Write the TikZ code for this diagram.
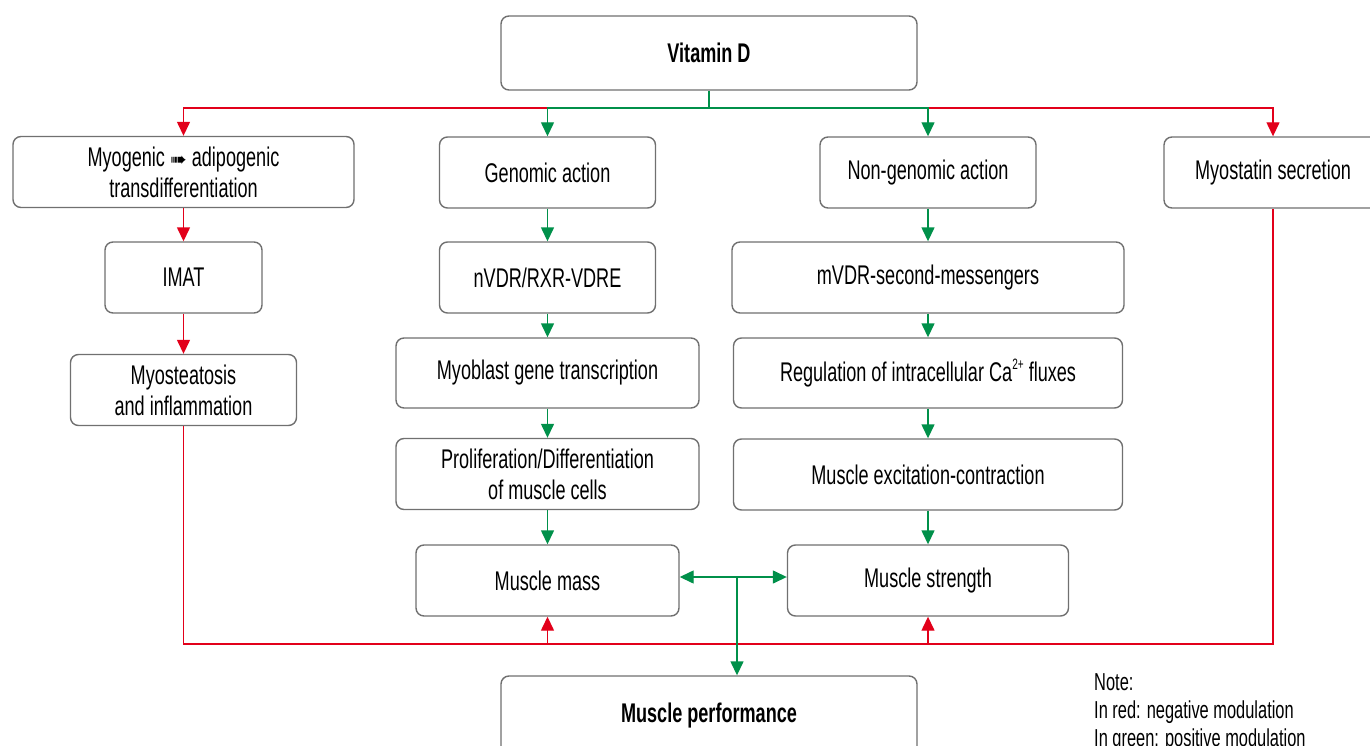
\documentclass[tikz,border=0pt]{standalone}
\usepackage{fontspec}
\setmainfont{Liberation Sans}[FakeStretch=0.67]
\newfontfamily\dejavu{DejaVu Sans}
\usetikzlibrary{arrows.meta}
\definecolor{vred}{HTML}{E2001A}
\definecolor{vgreen}{HTML}{00904A}
\definecolor{vgray}{HTML}{707070}
\tikzset{
  box/.style={draw=vgray, line width=1.4pt, rounded corners=8pt, fill=white,
    align=center, inner sep=0pt, font=\fontsize{27}{31}\selectfont},
  boldbox/.style={box, font=\fontsize{27}{31}\selectfont\bfseries},
  rline/.style={draw=vred, line width=1.4pt},
  gline/.style={draw=vgreen, line width=1.4pt},
  rarr/.style={rline, -{Triangle[length=14pt,width=13pt]}},
  garr/.style={gline, -{Triangle[length=14pt,width=13pt]}},
  garrtwo/.style={gline, {Triangle[length=14pt,width=13pt]}-{Triangle[length=14pt,width=13pt]}},
  notetext/.style={align=left, inner sep=0pt, font=\fontsize{24.5}{28}\selectfont}
}
\begin{document}
\begin{tikzpicture}[x=1pt,y=-1pt]
\path[use as bounding box] (0,0) rectangle (1370,746);
\clip (0,0) rectangle (1370,746);
% boxes
\node[boldbox, minimum width=416pt, minimum height=74pt] (vit) at (709,53) {Vitamin D};
\node[box, minimum width=341pt, minimum height=71pt] (myo) at (183.5,172) {Myogenic {\dejavu\fontsize{20}{20}\selectfont ➠} adipogenic\\transdifferentiation};
\node[box, minimum width=216pt, minimum height=71pt] (gen) at (547.5,172.5) {Genomic action};
\node[box, minimum width=216pt, minimum height=71pt] (ngen) at (928,172.5) {Non-genomic action};
\node[box, minimum width=218pt, minimum height=71pt] (mst) at (1273,172.5) {Myostatin secretion};
\node[box, minimum width=157pt, minimum height=71pt] (imat) at (183.5,277.5) {IMAT};
\node[box, minimum width=216pt, minimum height=71pt] (nvdr) at (547.5,277.5) {nVDR/RXR-VDRE};
\node[box, minimum width=392pt, minimum height=71pt] (mvdr) at (928,277.5) {mVDR-second-messengers};
\node[box, minimum width=226pt, minimum height=71pt] (ost) at (183.5,390) {Myosteatosis\\and inflammation};
\node[box, minimum width=303pt, minimum height=70pt] (myob) at (547.5,373) {Myoblast gene transcription};
\node[box, minimum width=389pt, minimum height=70pt] (reg) at (928,373) {Regulation of intracellular Ca\raisebox{0.45em}{\fontsize{15}{15}\selectfont 2+} fluxes};
\node[box, minimum width=303pt, minimum height=71pt] (prol) at (547.5,474) {Proliferation/Differentiation\\of muscle cells};
\node[box, minimum width=389pt, minimum height=71pt] (exc) at (928,474.5) {Muscle excitation-contraction};
\node[box, minimum width=263pt, minimum height=71pt] (mass) at (547.5,580.5) {Muscle mass};
\node[box, minimum width=281pt, minimum height=71pt] (str) at (928,580.5) {Muscle strength};
\node[boldbox, minimum width=416pt, minimum height=80pt] (perf) at (709,716) {Muscle performance};
\node[notetext, anchor=north west] (note) at (1094,673) {Note:\\In red: negative modulation\\In green: positive modulation};
% top bus
\coordinate (bus) at (709,108);
\draw[rarr] (bus -| gen.north) -| (myo.north);
\draw[rarr] (bus -| ngen.north) -| (mst.north);
\draw[gline] (vit.south) -- (bus);
\draw[garr] (bus) -| (gen.north);
\draw[garr] (bus) -| (ngen.north);
% left column
\draw[rarr] (myo.south) -- (imat.north);
\draw[rarr] (imat.south) -- (ost.north);
% middle column
\draw[garr] (gen.south) -- (nvdr.north);
\draw[garr] (nvdr.south) -- (myob.north);
\draw[garr] (myob.south) -- (prol.north);
\draw[garr] (prol.south) -- (mass.north);
% right column
\draw[garr] (ngen.south) -- (mvdr.north);
\draw[garr] (mvdr.south) -- (reg.north);
\draw[garr] (reg.south) -- (exc.north);
\draw[garr] (exc.south) -- (str.north);
% bottom red bus
\coordinate (rb) at (0,644);
\draw[rline] (ost.south) -- (ost.south |- rb) -- (mst.south |- rb) -- (mst.south);
\draw[rarr] (mass.south |- rb) -- (mass.south);
\draw[rarr] (str.south |- rb) -- (str.south);
% green links
\coordinate (gj) at (737,577);
\draw[garrtwo] (mass.east |- gj) -- (str.west |- gj);
\draw[garr] (gj) -- (gj |- perf.north);
\end{tikzpicture}
\end{document}
